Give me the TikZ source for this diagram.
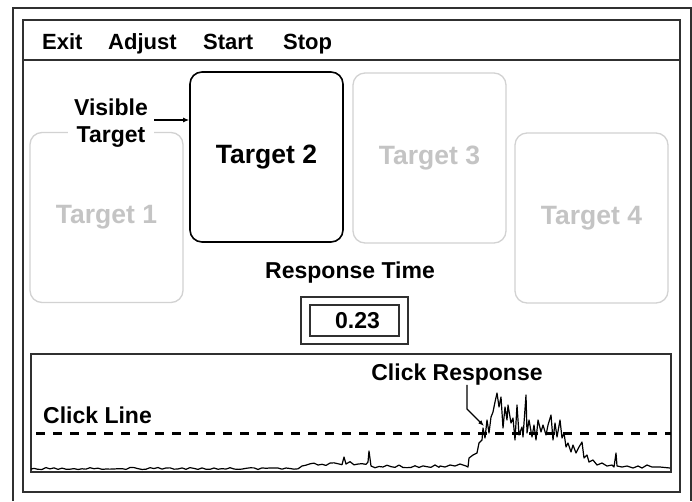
\documentclass[tikz,border=0pt]{standalone}
\usepackage{fontspec}
\setmainfont{Liberation Sans}
\usetikzlibrary{arrows.meta}
\definecolor{frm}{HTML}{303030}
\definecolor{ghost}{HTML}{D2D2D2}
\definecolor{ghosttxt}{HTML}{C4C4C4}
\tikzset{
  frame/.style={draw=frm, line width=2pt},
  menuitem/.style={anchor=base west, inner sep=0pt, font=\fontsize{22}{26}\selectfont\bfseries},
  lbl/.style={inner sep=0pt, font=\fontsize{23}{27}\selectfont\bfseries},
  tgt/.style={rectangle, rounded corners=12pt, minimum width=153pt, minimum height=170pt, inner sep=0pt,
    font=\fontsize{26.5}{30}\selectfont\bfseries},
  ghosttgt/.style={tgt, draw=ghost, line width=1.3pt, text=ghosttxt},
  livetgt/.style={tgt, draw=black, line width=1.6pt},
  arr/.style={line width=1.2pt, -{Latex[length=6pt,width=5pt]}},
  ptr/.style={line width=1.1pt, -{Latex[length=6pt,width=4.5pt]}},
  clickline/.style={line width=3pt, dash pattern=on 9pt off 8pt},
  trace/.style={line width=1.2pt, line join=round}
}
\begin{document}
\begin{tikzpicture}[x=1pt,y=-1pt]
\useasboundingbox (0,0) rectangle (692,501);
\fill[white] (0,0) rectangle (692,501);
% outer frame
\draw[frame] (13,501) -- (13,8) -- (691,8) -- (691,501);
% inner window
\draw[frame] (23,20) rectangle (680,492);
\draw[frame] (23,60) -- (680,60);
% menu
\node[menuitem] (mexit) at (42,49) {Exit};
\node[menuitem] (madj) at (108,49) {Adjust};
\node[menuitem] (mstart) at (203,49) {Start};
\node[menuitem] (mstop) at (283,49) {Stop};
% targets
\node[ghosttgt] (t1) at (106.5,217.5) {Target 1};
\node[livetgt] (t2) at (266.5,157) {Target 2};
\node[ghosttgt] (t3) at (429.5,158) {Target 3};
\node[ghosttgt] (t4) at (591.5,218) {Target 4};
% visible target label
\node[lbl, fill=white, inner xsep=6pt, inner ysep=1pt, align=center] (vis) at (111,123) {Visible\\Target};
\draw[arr] ([yshift=3pt]vis.east) -- ([yshift=3pt]vis.east -| t2.west);
% response time
\node[lbl, anchor=base] (rt) at (350,278) {Response Time};
\node[draw=frm, line width=1.6pt, minimum width=107pt, minimum height=47pt, inner sep=0pt] (rtout) at (354.5,320.5) {};
\node[draw=frm, line width=1.6pt, minimum width=89pt, minimum height=31pt, inner sep=0pt, lbl] (rtin) at (rtout.center) {\hspace*{6pt}0.23};
% chart
\draw[frame] (31,354) rectangle (671,472);
\node[lbl, anchor=base west] (cl) at (43,423) {Click Line};
\coordinate (cla) at (36,433);
\coordinate (clb) at (671,433);
\draw[clickline] (cla) -- (clb);
\node[lbl, anchor=base] (cr) at (457,380) {Click Response};
\coordinate (crtip) at (484,426);
\draw[ptr] ([xshift=10pt]cr.south) -- ++(0,24) -- (crtip);
% signal trace
\pgfmathsetseed{12}
\draw[trace] (31,469)
  \foreach \x in {34,38,...,298} { -- (\x,{467.5+2*rnd}) }
  -- (302,466)
  \foreach \x in {306,310,...,342} { -- (\x,{462.5+3*rnd}) }
  -- (344,457) -- (346,464)
  \foreach \x in {350,354,...,366} { -- (\x,{461+4*rnd}) }
  -- (368,462) -- (369,451) -- (371,466)
  \foreach \x in {375,379,...,439} { -- (\x,{464.5+3.5*rnd}) }
  -- (440,466) -- (445,467) -- (450,465) -- (455,466) -- (460,464) -- (466,466)
  -- (468,467) -- (469,458) -- (473,455) -- (477,453) -- (479,443) -- (482,440)
  -- (483,428) -- (485,438) -- (487,420) -- (489,433) -- (491,417) -- (493,412)
  -- (495,402) -- (497,393) -- (499,407) -- (501,397) -- (503,428) -- (505,407)
  -- (507,420) -- (508,405) -- (511,423) -- (513,418) -- (515,440) -- (517,405)
  -- (519,435) -- (522,427) -- (523,437) -- (526,395) -- (527,433) -- (529,420)
  -- (532,437) -- (534,425) -- (536,440) -- (538,420) -- (541,432) -- (543,425)
  -- (546,435) -- (548,425) -- (551,415) -- (553,440) -- (555,423) -- (557,437)
  -- (560,420) -- (562,438) -- (564,433) -- (566,447) -- (568,443) -- (571,452)
  -- (573,445) -- (576,453) -- (579,447) -- (582,442) -- (584,458) -- (587,455)
  -- (589,462) -- (593,460) -- (597,465) -- (602,463) -- (607,466) -- (612,465)
  -- (614,467) -- (616,453) -- (617,466) -- (622,467) -- (627,466) -- (633,468)
  -- (638,466) -- (642,468) -- (647,465) -- (652,467) -- (660,467) -- (670,468);
\end{tikzpicture}
\end{document}
